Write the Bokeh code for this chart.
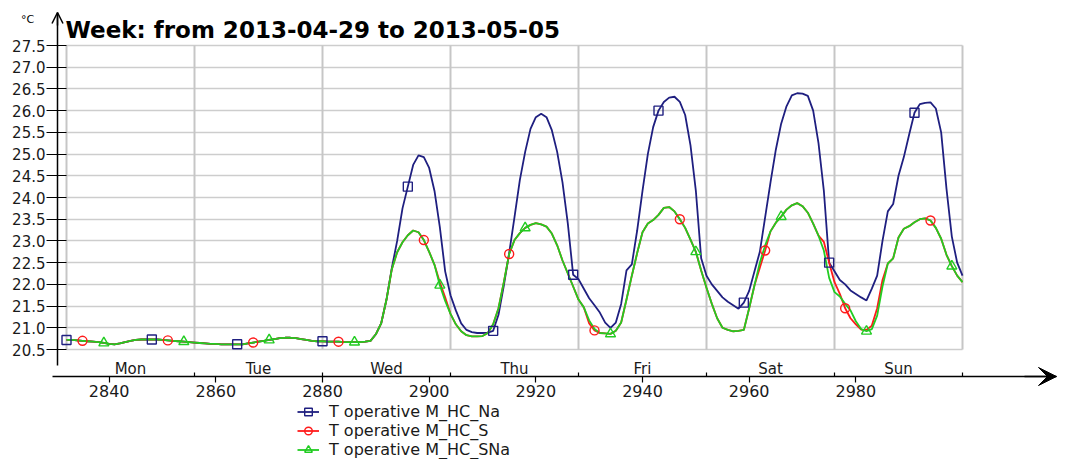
from bokeh.plotting import figure
from bokeh.models import (Range1d, LinearAxis, FixedTicker, PrintfTickFormatter, Grid,
                          Arrow, OpenHead, VeeHead, Label, Legend, LegendItem)
from bokeh.embed import file_html
from bokeh.resources import INLINE

# ---------------- data ----------------
title_text = "Week: from 2013-04-29 to 2013-05-05"
unit_text = "°C"
series_names = ["T operative M_HC_Na", "T operative M_HC_S", "T operative M_HC_SNa"]

hour_start = 2832
day_bounds = [2832, 2856, 2880, 2904, 2928, 2952, 2976, 3000]
day_names = ["Mon", "Tue", "Wed", "Thu", "Fri", "Sat", "Sun"]
x_ticks = [2840, 2860, 2880, 2900, 2920, 2940, 2960, 2980]
y_ticks = [20.5, 21.0, 21.5, 22.0, 22.5, 23.0, 23.5, 24.0, 24.5, 25.0, 25.5, 26.0, 26.5, 27.0, 27.5]

# hourly values, Mon 00h .. Wed 17h (identical for the three variants)
flat_mon_wed = [
    20.72, 20.72, 20.71, 20.70, 20.69, 20.68, 20.67, 20.65, 20.63, 20.62, 20.64, 20.67,
    20.70, 20.72, 20.73, 20.73, 20.73, 20.73, 20.72, 20.71, 20.70, 20.69, 20.68, 20.67,
    20.66, 20.65, 20.64, 20.63, 20.63, 20.62, 20.62, 20.62, 20.62, 20.62, 20.64, 20.66,
    20.68, 20.70, 20.72, 20.74, 20.76, 20.77, 20.77, 20.76, 20.74, 20.72, 20.70, 20.69,
    20.69, 20.68, 20.68, 20.68, 20.67, 20.67, 20.67, 20.67, 20.68, 20.70,
]

# hours 2890 .. 3000
na_rest = [
    20.85, 21.10, 21.65, 22.38, 23.00, 23.75, 24.25, 24.75, 24.97, 24.93,
    24.68, 24.15, 23.32, 22.30, 21.75, 21.40, 21.10, 20.95, 20.90, 20.88,
    20.88, 20.89, 20.93, 21.30, 21.97, 22.72, 23.55, 24.40, 25.05, 25.58,
    25.85, 25.93, 25.85, 25.55, 25.05, 24.35, 23.40, 22.22, 22.12, 21.90,
    21.68, 21.52, 21.35, 21.12, 21.00, 21.12, 21.55, 22.32, 22.46, 23.24,
    24.15, 25.00, 25.62, 26.00, 26.20, 26.30, 26.32, 26.20, 25.90, 25.20,
    24.16, 22.60, 22.20, 22.00, 21.85, 21.70, 21.60, 21.52, 21.44, 21.58,
    21.85, 22.30, 22.75, 23.55, 24.35, 25.10, 25.70, 26.10, 26.35, 26.40,
    26.39, 26.34, 26.00, 25.25, 24.16, 22.50, 22.30, 22.10, 22.00, 21.86,
    21.78, 21.70, 21.63, 21.90, 22.20, 23.00, 23.68, 23.85, 24.50, 24.93,
    25.45, 25.95, 26.15, 26.18, 26.19, 26.05, 25.50, 24.20, 23.10, 22.50,
    22.20,
]

s_rest = [
    20.85, 21.10, 21.65, 22.35, 22.74, 22.97, 23.13, 23.24, 23.20, 23.02,
    22.75, 22.45, 22.05, 21.70, 21.32, 21.08, 20.92, 20.83, 20.80, 20.80,
    20.81, 20.88, 21.08, 21.45, 22.05, 22.70, 23.02, 23.18, 23.30, 23.37,
    23.41, 23.38, 23.33, 23.17, 22.90, 22.55, 22.25, 21.95, 21.65, 21.47,
    21.10, 20.94, 20.88, 20.87, 20.86, 20.93, 21.12, 21.65, 22.20, 22.72,
    23.20, 23.40, 23.48, 23.60, 23.76, 23.78, 23.68, 23.50, 23.30, 23.03,
    22.75, 22.32, 21.92, 21.55, 21.22, 21.00, 20.95, 20.92, 20.93, 20.95,
    21.45, 21.98, 22.38, 22.78, 23.22, 23.42, 23.56, 23.72, 23.82, 23.87,
    23.80, 23.65, 23.40, 23.12, 22.98, 22.50, 22.05, 21.78, 21.45, 21.22,
    21.08, 20.96, 20.95, 21.05, 21.45, 22.10, 22.48, 22.60, 23.08, 23.28,
    23.34, 23.43, 23.50, 23.52, 23.47, 23.30, 23.05, 22.68, 22.42, 22.20,
    22.05,
]

sna_rest = [
    20.85, 21.10, 21.65, 22.35, 22.74, 22.97, 23.13, 23.24, 23.20, 23.02,
    22.75, 22.45, 21.98, 21.62, 21.32, 21.08, 20.92, 20.83, 20.80, 20.80,
    20.81, 20.88, 21.08, 21.45, 22.05, 22.70, 23.02, 23.18, 23.30, 23.37,
    23.41, 23.38, 23.33, 23.17, 22.90, 22.55, 22.25, 21.95, 21.65, 21.47,
    21.17, 20.97, 20.88, 20.87, 20.86, 20.93, 21.12, 21.65, 22.20, 22.72,
    23.20, 23.40, 23.48, 23.60, 23.76, 23.78, 23.68, 23.50, 23.30, 23.03,
    22.75, 22.32, 21.92, 21.55, 21.22, 21.00, 20.95, 20.92, 20.93, 20.95,
    21.45, 21.98, 22.50, 22.90, 23.22, 23.42, 23.56, 23.72, 23.82, 23.87,
    23.80, 23.65, 23.40, 23.12, 22.78, 22.15, 21.82, 21.72, 21.55, 21.40,
    21.15, 20.97, 20.92, 20.97, 21.28, 21.95, 22.48, 22.60, 23.08, 23.28,
    23.34, 23.43, 23.50, 23.52, 23.47, 23.30, 23.05, 22.68, 22.42, 22.20,
    22.05,
]

t_na = flat_mon_wed + na_rest
t_s = flat_mon_wed + s_rest
t_sna = flat_mon_wed + sna_rest

# ---------------- layout / style ----------------
NA_COLOR = "#1f1f80"
S_COLOR = "#ff1a1a"
SNA_COLOR = "#22cc22"
FONT = "DejaVu Sans"
TEXT_COLOR = "#1a1a1a"

W, H = 1060, 459
BOX_L, BOX_T, BOX_B = 66, 45, 349          # plot box in canvas pixels
PX_PER_H = 896.0 / 168.0
PX_PER_C = 304.0 / 7.0

x_start = day_bounds[0] - BOX_L / PX_PER_H
x_end = x_start + W / PX_PER_H
y_start = y_ticks[0] - (H - BOX_B) / PX_PER_C
y_end = y_ticks[-1] + BOX_T / PX_PER_C

yaxis_loc = day_bounds[0] - 9 / PX_PER_H        # black y axis line
xaxis_loc = y_ticks[0] - 27 / PX_PER_C          # black x axis line
yaxis_top = y_ticks[-1] + 33 / PX_PER_C
yaxis_bot = y_ticks[0] - 16 / PX_PER_C
xaxis_left = day_bounds[0] - 14 / PX_PER_H
xaxis_right = day_bounds[0] + (1056 - BOX_L) / PX_PER_H

p = figure(width=W, height=H,
           x_range=Range1d(x_start, x_end), y_range=Range1d(y_start, y_end),
           x_axis_type=None, y_axis_type=None,
           output_backend="svg", toolbar_location=None,
           min_border=0, min_border_left=0, min_border_right=0,
           min_border_top=0, min_border_bottom=0)
p.outline_line_color = None
p.title.visible = False
p.background_fill_color = "white"

# grid (plot box)
if "cross_bounds" in Grid.properties():
    ygrid = Grid(dimension=1, ticker=FixedTicker(ticks=y_ticks),
                 bounds=(y_ticks[0] - 0.1, y_ticks[-1] + 0.1),
                 cross_bounds=(day_bounds[0], day_bounds[-1]),
                 grid_line_color="#cdcdcd", grid_line_width=1.5)
    xgrid = Grid(dimension=0, ticker=FixedTicker(ticks=day_bounds),
                 bounds=(day_bounds[0] - 1, day_bounds[-1] + 1),
                 cross_bounds=(y_ticks[0], y_ticks[-1]),
                 grid_line_color="#c6c6c6", grid_line_width=2)
    p.add_layout(ygrid)
    p.add_layout(xgrid)
else:
    p.segment(x0=[day_bounds[0]] * len(y_ticks), y0=y_ticks,
              x1=[day_bounds[-1]] * len(y_ticks), y1=y_ticks,
              line_color="#cdcdcd", line_width=1.5)
    p.segment(x0=day_bounds, y0=[y_ticks[0]] * len(day_bounds),
              x1=day_bounds, y1=[y_ticks[-1]] * len(day_bounds),
              line_color="#c6c6c6", line_width=2)

# axes
yaxis = LinearAxis(fixed_location=yaxis_loc, bounds=(yaxis_bot, yaxis_top),
                   ticker=FixedTicker(ticks=y_ticks),
                   formatter=PrintfTickFormatter(format="%.1f"),
                   axis_line_color="black", axis_line_width=1.5,
                   major_tick_out=11, major_tick_in=9,
                   major_tick_line_color="black", major_tick_line_width=1.2,
                   minor_tick_line_color=None,
                   major_label_standoff=1,
                   major_label_text_font=FONT, major_label_text_font_size="15px",
                   major_label_text_color=TEXT_COLOR)
p.add_layout(yaxis, "left")

xaxis = LinearAxis(fixed_location=xaxis_loc, bounds=(xaxis_left, xaxis_right),
                   ticker=FixedTicker(ticks=x_ticks, minor_ticks=day_bounds[1:]),
                   axis_line_color="black", axis_line_width=1.5,
                   major_tick_out=6, major_tick_in=0,
                   major_tick_line_color="black", major_tick_line_width=1.2,
                   minor_tick_out=0, minor_tick_in=4,
                   minor_tick_line_color="black", minor_tick_line_width=1.2,
                   major_label_standoff=2,
                   major_label_text_font=FONT, major_label_text_font_size="16px",
                   major_label_text_color=TEXT_COLOR)
p.add_layout(xaxis, "below")

day_centers = [b + 12 for b in day_bounds[:-1]]
dayaxis = LinearAxis(fixed_location=y_ticks[0],
                     ticker=FixedTicker(ticks=day_centers),
                     major_label_overrides={c: n for c, n in zip(day_centers, day_names)},
                     axis_line_color=None, major_tick_line_color=None,
                     minor_tick_line_color=None, major_tick_out=0, major_tick_in=0,
                     major_label_standoff=10,
                     major_label_text_font=FONT, major_label_text_font_size="15px",
                     major_label_text_color=TEXT_COLOR)
p.add_layout(dayaxis, "below")

# axis arrow heads
p.add_layout(Arrow(end=OpenHead(size=11, line_color="black", line_width=1.5),
                   x_start=yaxis_loc, y_start=yaxis_top - 0.3,
                   x_end=yaxis_loc, y_end=yaxis_top,
                   line_color="black", line_width=1.5))
p.add_layout(Arrow(end=VeeHead(size=18, fill_color="black", line_color="black"),
                   x_start=xaxis_right - 6, y_start=xaxis_loc,
                   x_end=xaxis_right, y_end=xaxis_loc,
                   line_color="black", line_width=1.5))

# title and unit
p.add_layout(Label(x=day_bounds[0] - 1 / PX_PER_H, y=y_ticks[-1] + 15.5 / PX_PER_C,
                   text=title_text, text_font=FONT, text_font_style="bold",
                   text_font_size="23px", text_color="black",
                   text_align="left", text_baseline="alphabetic"))
p.add_layout(Label(x=day_bounds[0] - 39 / PX_PER_H, y=y_ticks[-1] + 26 / PX_PER_C,
                   text=unit_text, text_font=FONT, text_font_size="11px",
                   text_color="black", text_align="center", text_baseline="middle"))

# series
hours_na = list(range(hour_start, hour_start + len(t_na)))
hours_s = list(range(hour_start, hour_start + len(t_s)))
hours_sna = list(range(hour_start, hour_start + len(t_sna)))

r_na = p.line(hours_na, t_na, line_color=NA_COLOR, line_width=1.8)
r_s = p.line(hours_s, t_s, line_color=S_COLOR, line_width=1.8)
r_sna = p.line(hours_sna, t_sna, line_color=SNA_COLOR, line_width=1.8)

marker_step = 15.9
sq_idx = [i for i in (round(0.0 + k * marker_step) for k in range(11)) if i < len(t_na)]
ci_idx = [i for i in (round(3.4 + k * marker_step) for k in range(11)) if i < len(t_s)]
tr_idx = [i for i in (round(6.6 + k * marker_step) for k in range(11)) if i < len(t_sna)]

m_na = p.scatter([hours_na[i] for i in sq_idx], [t_na[i] for i in sq_idx],
                 marker="square", size=9, line_color=NA_COLOR, fill_color=None, line_width=1.4)
m_s = p.scatter([hours_s[i] for i in ci_idx], [t_s[i] for i in ci_idx],
                marker="circle", size=9, line_color=S_COLOR, fill_color=None, line_width=1.4)
m_sna = p.scatter([hours_sna[i] for i in tr_idx], [t_sna[i] for i in tr_idx],
                  marker="triangle", size=10, line_color=SNA_COLOR, fill_color=None, line_width=1.4)

legend = Legend(items=[LegendItem(label=series_names[0], renderers=[r_na, m_na]),
                       LegendItem(label=series_names[1], renderers=[r_s, m_s]),
                       LegendItem(label=series_names[2], renderers=[r_sna, m_sna])],
                location=(297, 0), orientation="vertical",
                glyph_width=22, glyph_height=19, label_height=19, label_standoff=10,
                spacing=0, padding=0, margin=0,
                border_line_color=None, background_fill_alpha=0,
                label_text_font=FONT, label_text_font_size="16px",
                label_text_color=TEXT_COLOR)
p.add_layout(legend)

open("out.html", "w").write(file_html(p, INLINE))
